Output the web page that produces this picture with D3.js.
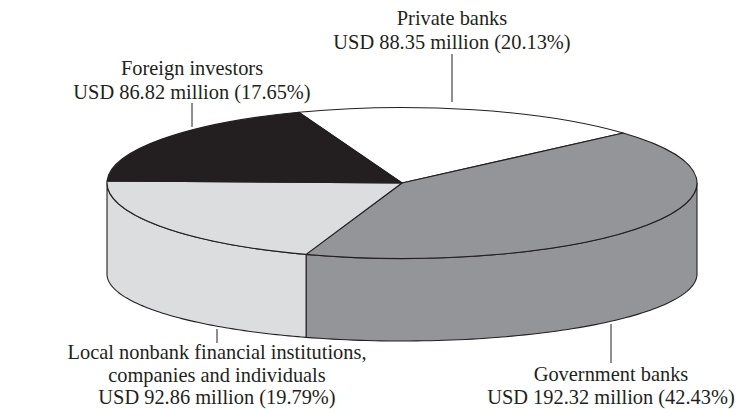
<!DOCTYPE html>
<html>
<head>
<meta charset="utf-8">
<script src="https://cdn.jsdelivr.net/npm/d3@7"></script>
<style>
  html, body { margin: 0; padding: 0; background: #ffffff; }
  svg { display: block; }
  text { font-family: "Liberation Serif", "Times New Roman", serif; fill: #231f20; }
</style>
</head>
<body>
<svg id="chart" width="741" height="409"></svg>
<script>
// Shareholder groups, drawn clockwise starting from the back of the disc
const categories = ["Private banks", "Government banks", "Local nonbank", "Foreign investors"];
const nameLines = [
  ["Private banks"],
  ["Government banks"],
  ["Local nonbank financial institutions,", "companies and individuals"],
  ["Foreign investors"]
];
const valuesUSD = [88.35, 192.32, 92.86, 86.82];      // USD million
const percentLabels = [20.13, 42.43, 19.79, 17.65];   // share as printed

// Fill tones for each group
const fills = ["#ffffff", "#939598", "#dcdddf", "#231f20"];
const ink = "#231f20";

// Disc geometry (tilted pie); the bottom rim is drawn slightly flatter than the top
const disc = { cx: 402, cy: 183, rx: 295, ry: 75.5, depth: 91, ryBottom: 67, startAngle: -0.358 };

// Label anchors: text centre x, first baseline y, line gap, leader line [x, y1, y2]
const labelLayout = [
  { x: 452, y: 25, gap: 24, lead: [452, 54, 102] },
  { x: 611, y: 381, gap: 23, lead: [611, 324, 363] },
  { x: 217, y: 359, gap: 22.5, lead: [217, 329, 343] },
  { x: 192, y: 75, gap: 24, lead: [192, 103, 127] }
];

const svg = d3.select("#chart");

const pie = d3.pie()
  .sort(null)
  .value(d => d.value)
  .startAngle(disc.startAngle)
  .endAngle(disc.startAngle + 2 * Math.PI);

const data = categories.map((c, i) => ({ name: c, value: valuesUSD[i], pct: percentLabels[i], i }));
const arcs = pie(data);

// Points on the top and bottom rims for a d3 angle
const topRim = a => [disc.cx + disc.rx * Math.sin(a), disc.cy - disc.ry * Math.cos(a)];
const botRim = a => [disc.cx + disc.rx * Math.sin(a), disc.cy + disc.depth - disc.ryBottom * Math.cos(a)];

const line = d3.line();

// Side walls: only the front half (angles between PI/2 and 3PI/2) is visible
const sides = svg.append("g");
arcs.forEach(d => {
  let a0 = d.startAngle;
  while (a0 < 0) a0 += 2 * Math.PI;
  while (a0 >= 2 * Math.PI) a0 -= 2 * Math.PI;
  const a1 = a0 + (d.endAngle - d.startAngle);
  [0, 2 * Math.PI].forEach(shift => {
    const s = Math.max(a0 - shift, Math.PI / 2);
    const e = Math.min(a1 - shift, 3 * Math.PI / 2);
    if (e <= s) return;
    const n = 80;
    const topPts = d3.range(n + 1).map(k => topRim(s + (e - s) * k / n));
    const botPts = d3.range(n + 1).map(k => botRim(e - (e - s) * k / n));
    sides.append("path")
      .attr("d", line(topPts.concat(botPts)) + "Z")
      .attr("fill", fills[d.data.i])
      .attr("stroke", ink)
      .attr("stroke-width", 1.1)
      .attr("stroke-linejoin", "round");
  });
});

// Top face: a flat pie squashed vertically into an ellipse
const arcGen = d3.arc().innerRadius(0).outerRadius(disc.rx);
svg.append("g")
  .attr("transform", `translate(${disc.cx},${disc.cy}) scale(1,${disc.ry / disc.rx})`)
  .selectAll("path")
  .data(arcs)
  .join("path")
  .attr("d", arcGen)
  .attr("fill", d => fills[d.data.i])
  .attr("stroke", ink)
  .attr("stroke-width", 1.1)
  .attr("stroke-linejoin", "round")
  .attr("vector-effect", "non-scaling-stroke");

// Labels with leader lines
const labels = svg.append("g");
arcs.forEach(d => {
  const L = labelLayout[d.data.i];
  const lines = nameLines[d.data.i].concat([
    `USD ${d.data.value.toFixed(2)} million (${d.data.pct.toFixed(2)}%)`
  ]);
  const t = labels.append("text")
    .attr("text-anchor", "middle")
    .attr("font-size", 20.4);
  lines.forEach((s, k) => {
    t.append("tspan").attr("x", L.x).attr("y", L.y + k * L.gap).text(s);
  });
  labels.append("line")
    .attr("x1", L.lead[0]).attr("x2", L.lead[0])
    .attr("y1", L.lead[1]).attr("y2", L.lead[2])
    .attr("stroke", ink)
    .attr("stroke-width", 1);
});
</script>
</body>
</html>
